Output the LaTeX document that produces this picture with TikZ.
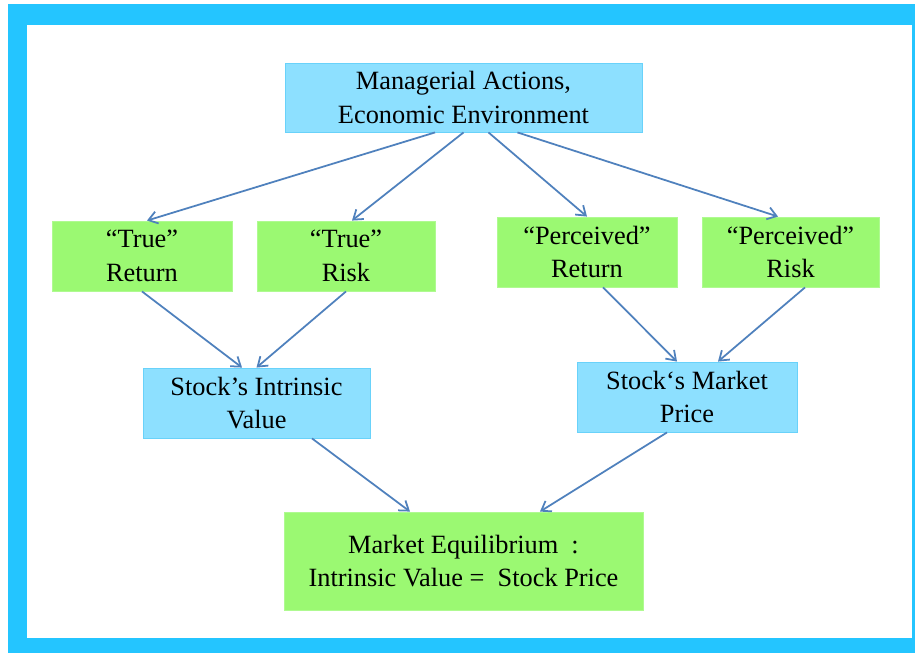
\documentclass[tikz,border=0pt]{standalone}
\usepackage{xcolor}
\usepackage{fontspec}
\setmainfont{Liberation Serif}
\usetikzlibrary{arrows.meta}

\definecolor{framecyan}{RGB}{36,197,255}
\definecolor{boxblue}{RGB}{141,224,255}
\definecolor{boxblueline}{RGB}{105,210,250}
\definecolor{boxgreen}{RGB}{155,249,114}
\definecolor{boxgreenline}{RGB}{175,250,145}
\definecolor{arrowblue}{RGB}{79,129,189}

\begin{document}
\begin{tikzpicture}[x=0.02cm,y=-0.02cm]
			\tikzstyle{cause} = [draw=boxblueline, fill=boxblue, line width=0.5pt, align=center, inner sep=0pt, font=\fontsize{15}{19}\selectfont]
			\tikzstyle{factor} = [draw=boxgreenline, fill=boxgreen, line width=0.5pt, align=center, inner sep=0pt, font=\fontsize{15}{19}\selectfont]
			\tikzset{edge/.style = {draw=arrowblue, line width=1pt, -{Straight Barb[length=5pt,width=7pt]}}}

			\useasboundingbox (0,0) rectangle (915,653);
			\fill[framecyan] (8,4) rectangle (915,653);
			\fill[white] (27,25) rectangle (912,638);

			\node[cause, minimum width=7.14cm, minimum height=1.38cm](mgmt) at (463.5,97.5) {Managerial Actions,\\Economic Environment};

			\node[factor, minimum width=3.6cm, minimum height=1.4cm](trueret) at (142,256) {“True”\\Return};
			\node[factor, minimum width=3.56cm, minimum height=1.4cm](truerisk) at (346,256) {“True”\\Risk};
			\node[factor, minimum width=3.6cm, minimum height=1.4cm](percret) at (587,252) {“Perceived”\\Return};
			\node[factor, minimum width=3.54cm, minimum height=1.4cm](percrisk) at (790.5,252) {“Perceived”\\Risk};

			\node[cause, minimum width=4.54cm, minimum height=1.4cm](intrinsic) at (256.5,403) {Stock’s Intrinsic\\Value};
			\node[cause, minimum width=4.4cm, minimum height=1.4cm](market) at (687,397) {Stock‘s Market\\Price};

			\node[factor, minimum width=7.18cm, minimum height=1.96cm](equil) at (463.5,561) {Market Equilibrium~~:\\Intrinsic Value =~~Stock Price};

			\draw[edge] ([xshift=-0.57cm]mgmt.south) to ([xshift=0.1cm]trueret.north);
			\draw[edge] (mgmt.south) to ([xshift=0.12cm]truerisk.north);
			\draw[edge] ([xshift=0.5cm]mgmt.south) to (percret.north);
			\draw[edge] ([xshift=1.08cm]mgmt.south) to ([xshift=-0.25cm]percrisk.north);

			\draw[edge] (trueret.south) to ([xshift=-0.29cm]intrinsic.north);
			\draw[edge] (truerisk.south) to (intrinsic.north);
			\draw[edge] ([xshift=0.32cm]percret.south) to ([xshift=-0.2cm]market.north);
			\draw[edge] ([xshift=0.29cm]percrisk.south) to ([xshift=0.62cm]market.north);

			\draw[edge] ([xshift=1.11cm]intrinsic.south) to ([xshift=-1.07cm]equil.north);
			\draw[edge] ([xshift=-0.4cm]market.south) to ([xshift=1.53cm]equil.north);

			\end{tikzpicture}
\end{document}
